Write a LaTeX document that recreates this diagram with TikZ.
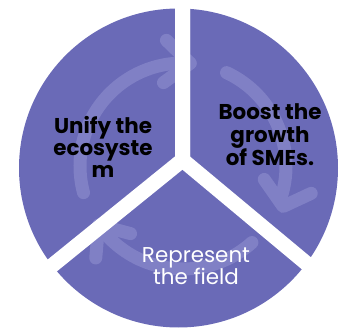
\documentclass[tikz,border=0pt]{standalone}
\usepackage{fontspec}
\setmainfont{Poppins}
\usetikzlibrary{calc}
\definecolor{piecol}{HTML}{6A6AB7}
\definecolor{ringcol}{HTML}{8080C5}
\begin{document}
\begin{tikzpicture}[x=1bp,y=1bp,
  ringline/.style={draw=ringcol,line width=13bp,line cap=round,line join=round},
  gapline/.style={draw=white,line width=15bp},
  sectortext/.style={align=center,inner sep=0pt,font=\fontsize{21.5}{22.5}\selectfont\bfseries}]
\useasboundingbox (0,0) rectangle (343,331);

\coordinate (centre) at (178.5,163);
\coordinate (hub) at (182.5,171);
\coordinate (ringc) at (183,165);
\coordinate (topend) at (182.5,345);
\coordinate (leftend) at (-12,13.5);
\coordinate (rightend) at (375,10.5);

\fill[piecol] (centre) circle (159.5);

\draw[ringline] ([shift={(195:103)}]ringc) arc (195:86:103);
\draw[ringline] ([shift={(65:103)}]ringc) arc (65:-20:103);
\draw[ringline] ([shift={(-48:103)}]ringc) arc (-48:-145:103);

\coordinate (tipA) at ($(ringc)+(86:103)$);
\coordinate (tipB) at ($(ringc)+(-22:108)$);
\coordinate (tipC) at ($(ringc)+(-145:103)$);
\draw[ringline] ([shift={(136:33)}]tipA) -- (tipA) -- ([shift={(216:33)}]tipA);
\draw[ringline] ([shift={(25:31)}]tipB) -- (tipB) -- ([shift={(125:33)}]tipB);
\draw[ringline] ([shift={(-95:33)}]tipC) -- (tipC) -- ([shift={(-15:33)}]tipC);

\draw[gapline] (topend) -- (hub) -- (leftend);
\draw[gapline] (topend) -- (hub) -- (rightend);

\node[sectortext] (unify) at (103,184) {Unify the\\ecosyste\\m};
\node[sectortext] (boost) at (270,196) {Boost the\\growth\\of SMEs.};
\node[sectortext,text=white,font=\fontsize{21.5}{22.5}\selectfont] (field) at (196,65) {Represent\\the field};
\end{tikzpicture}
\end{document}
